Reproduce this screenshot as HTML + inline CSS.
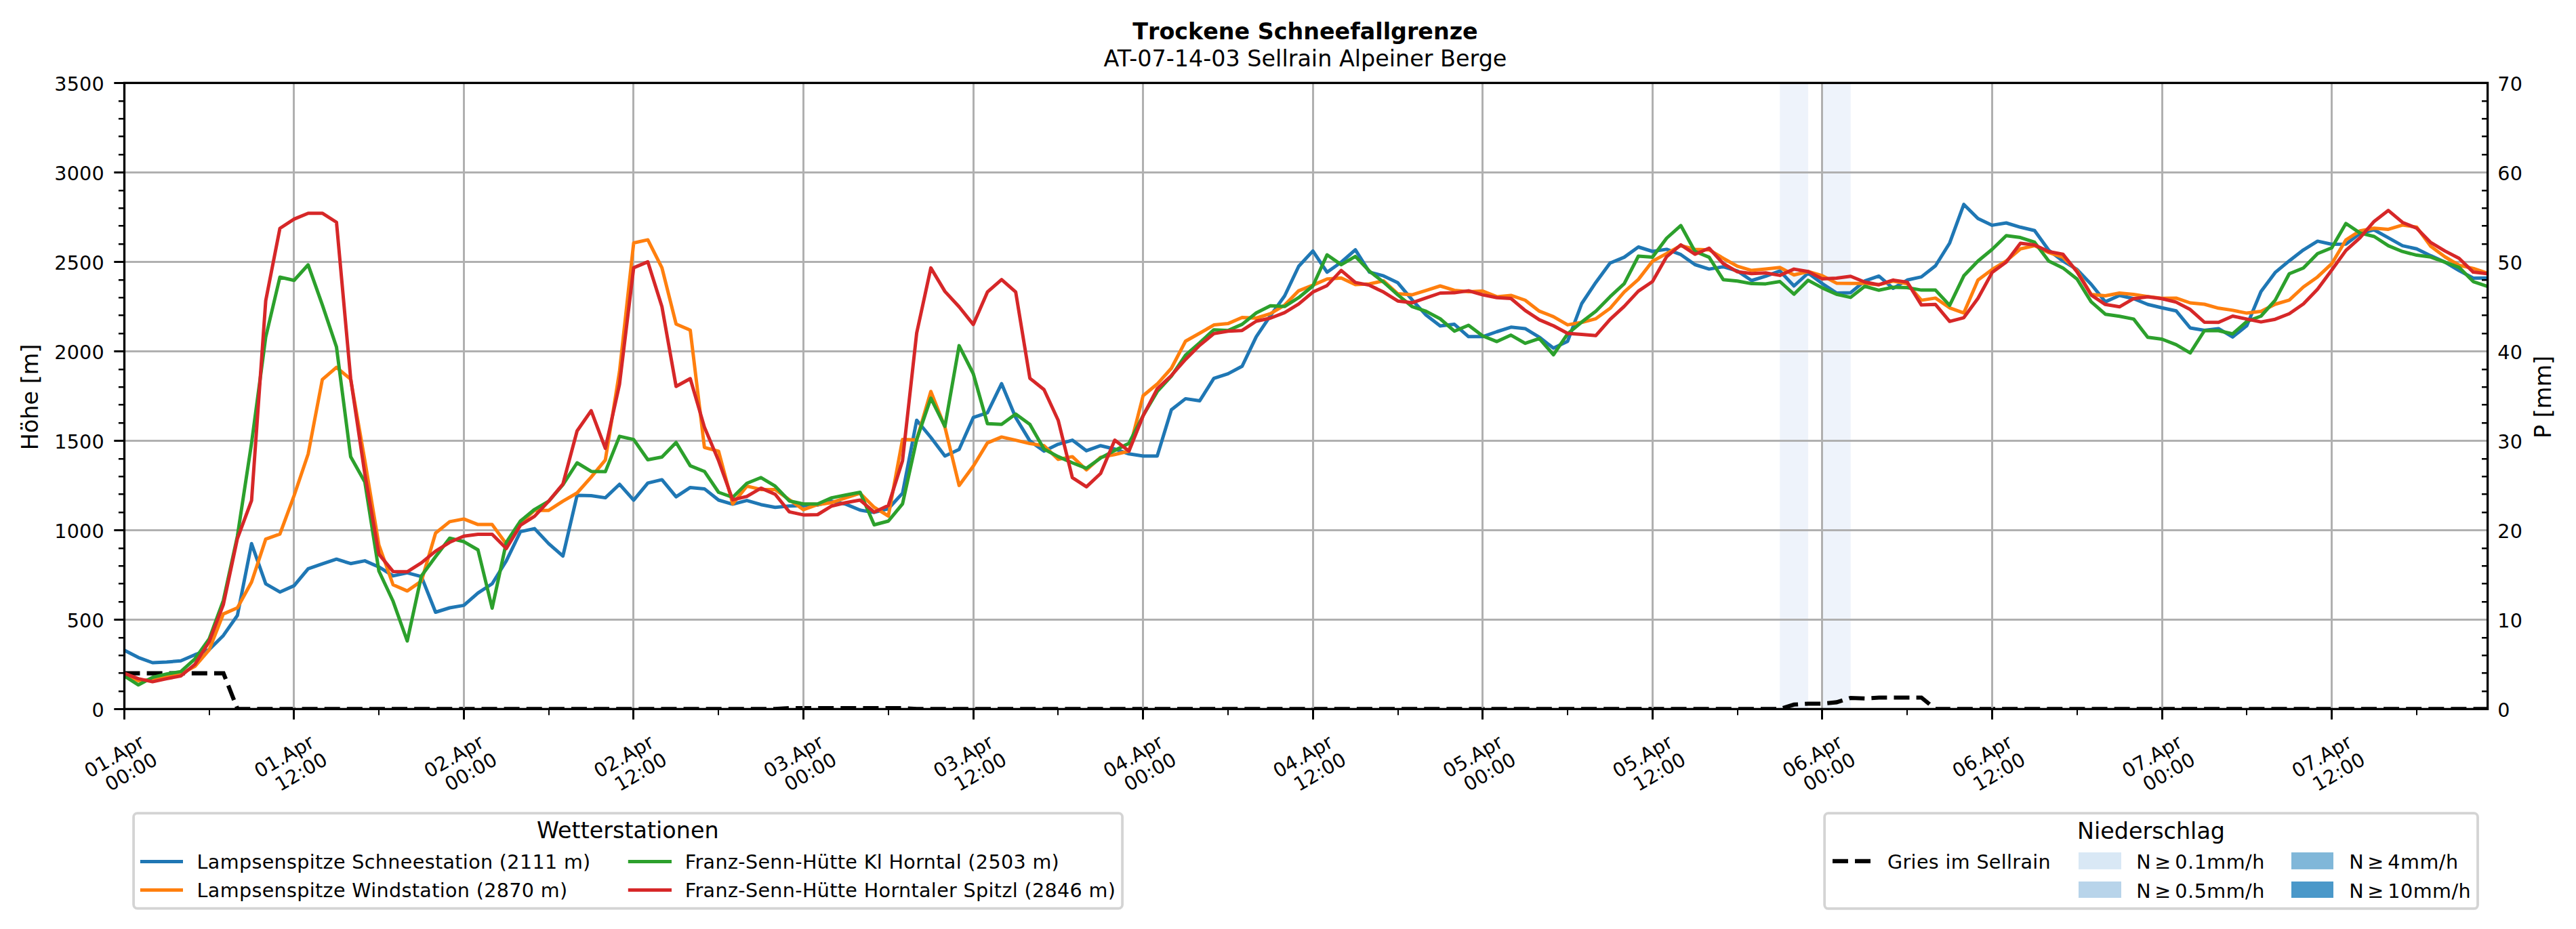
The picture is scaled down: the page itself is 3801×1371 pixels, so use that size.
<!DOCTYPE html>
<html lang="de"><head><meta charset="utf-8"><title>Trockene Schneefallgrenze</title>
<style>
html,body{margin:0;padding:0;background:#fff;overflow:hidden;width:3801px;height:1371px;}
svg{display:block;}
text{font-family:'DejaVu Sans','Liberation Sans',sans-serif;fill:#000;}
.tk{font-size:28.6px;letter-spacing:0.2px;}
.lg{font-size:28.6px;letter-spacing:0.34px;}
.ti{font-size:33.4px;}
</style></head><body>
<svg width="3801" height="1371" viewBox="0 0 3801 1371">
<rect width="3801" height="1371" fill="#fff"/>
<defs><clipPath id="ax"><rect x="183.5" y="122.4" width="3487.1" height="924.0"/></clipPath></defs>

<rect x="2626.3" y="122.4" width="41.8" height="924.0" fill="#eef3fb"/>
<rect x="2688.9" y="122.4" width="41.8" height="924.0" fill="#eef3fb"/>
<path clip-path="url(#ax)" d="M183.5,993.6 L204.4,993.6 L225.3,993.6 L246.1,993.6 L267.0,993.6 L287.9,993.6 L308.8,993.6 L329.7,993.6 L350.5,1046.4 L371.4,1046.4 L392.3,1046.4 L413.2,1046.4 L434.0,1046.4 L454.9,1046.4 L475.8,1046.4 L496.7,1046.4 L517.6,1046.4 L538.4,1046.4 L559.3,1046.4 L580.2,1046.4 L601.1,1046.4 L622.0,1046.4 L642.8,1046.4 L663.7,1046.4 L684.6,1046.4 L705.5,1046.4 L726.4,1046.4 L747.2,1046.4 L768.1,1046.4 L789.0,1046.4 L809.9,1046.4 L830.7,1046.4 L851.6,1046.4 L872.5,1046.4 L893.4,1046.4 L914.3,1046.4 L935.1,1046.4 L956.0,1046.4 L976.9,1046.4 L997.8,1046.4 L1018.7,1046.4 L1039.5,1046.4 L1060.4,1046.4 L1081.3,1046.4 L1102.2,1046.4 L1123.1,1046.4 L1143.9,1046.4 L1164.8,1045.1 L1185.7,1045.1 L1206.6,1045.1 L1227.5,1045.1 L1248.3,1045.1 L1269.2,1045.1 L1290.1,1045.1 L1311.0,1045.1 L1331.8,1045.1 L1352.7,1046.4 L1373.6,1046.4 L1394.5,1046.4 L1415.4,1046.4 L1436.2,1046.4 L1457.1,1046.4 L1478.0,1046.4 L1498.9,1046.4 L1519.8,1046.4 L1540.6,1046.4 L1561.5,1046.4 L1582.4,1046.4 L1603.3,1046.4 L1624.2,1046.4 L1645.0,1046.4 L1665.9,1046.4 L1686.8,1046.4 L1707.7,1046.4 L1728.5,1046.4 L1749.4,1046.4 L1770.3,1046.4 L1791.2,1046.4 L1812.1,1046.4 L1832.9,1046.4 L1853.8,1046.4 L1874.7,1046.4 L1895.6,1046.4 L1916.5,1046.4 L1937.3,1046.4 L1958.2,1046.4 L1979.1,1046.4 L2000.0,1046.4 L2020.9,1046.4 L2041.7,1046.4 L2062.6,1046.4 L2083.5,1046.4 L2104.4,1046.4 L2125.2,1046.4 L2146.1,1046.4 L2167.0,1046.4 L2187.9,1046.4 L2208.8,1046.4 L2229.6,1046.4 L2250.5,1046.4 L2271.4,1046.4 L2292.3,1046.4 L2313.2,1046.4 L2334.0,1046.4 L2354.9,1046.4 L2375.8,1046.4 L2396.7,1046.4 L2417.6,1046.4 L2438.4,1046.4 L2459.3,1046.4 L2480.2,1046.4 L2501.1,1046.4 L2521.9,1046.4 L2542.8,1046.4 L2563.7,1046.4 L2584.6,1046.4 L2605.5,1046.4 L2626.3,1046.4 L2647.2,1039.8 L2668.1,1038.5 L2689.0,1038.5 L2709.9,1036.4 L2730.7,1030.0 L2751.6,1030.8 L2772.5,1029.5 L2793.4,1029.5 L2814.3,1029.5 L2835.1,1029.5 L2856.0,1046.4 L2876.9,1046.4 L2897.8,1046.4 L2918.6,1046.4 L2939.5,1046.4 L2960.4,1046.4 L2981.3,1046.4 L3002.2,1046.4 L3023.0,1046.4 L3043.9,1046.4 L3064.8,1046.4 L3085.7,1046.4 L3106.6,1046.4 L3127.4,1046.4 L3148.3,1046.4 L3169.2,1046.4 L3190.1,1046.4 L3211.0,1046.4 L3231.8,1046.4 L3252.7,1046.4 L3273.6,1046.4 L3294.5,1046.4 L3315.4,1046.4 L3336.2,1046.4 L3357.1,1046.4 L3378.0,1046.4 L3398.9,1046.4 L3419.7,1046.4 L3440.6,1046.4 L3461.5,1046.4 L3482.4,1046.4 L3503.3,1046.4 L3524.1,1046.4 L3545.0,1046.4 L3565.9,1046.4 L3586.8,1046.4 L3607.7,1046.4 L3628.5,1046.4 L3649.4,1046.4 L3670.3,1046.4" fill="none" stroke="#000" stroke-width="6.1" stroke-dasharray="23.0 10.115" stroke-linecap="butt" stroke-linejoin="miter"/>
<g fill="#000">
<rect x="3655.4" y="1045" width="15.2" height="3"/>
<rect x="3655.4" y="913" width="15.2" height="3"/>
<rect x="3655.4" y="781" width="15.2" height="3"/>
<rect x="3655.4" y="649" width="15.2" height="3"/>
<rect x="3655.4" y="517" width="15.2" height="3"/>
<rect x="3655.4" y="385" width="15.2" height="3"/>
<rect x="3655.4" y="253" width="15.2" height="3"/>
<rect x="3655.4" y="121" width="15.2" height="3"/>
</g>
<g fill="#b0b0b0">
<rect x="182" y="122.4" width="3" height="924.0"/>
<rect x="432" y="122.4" width="3" height="924.0"/>
<rect x="683" y="122.4" width="3" height="924.0"/>
<rect x="933" y="122.4" width="3" height="924.0"/>
<rect x="1184" y="122.4" width="3" height="924.0"/>
<rect x="1435" y="122.4" width="3" height="924.0"/>
<rect x="1685" y="122.4" width="3" height="924.0"/>
<rect x="1936" y="122.4" width="3" height="924.0"/>
<rect x="2186" y="122.4" width="3" height="924.0"/>
<rect x="2437" y="122.4" width="3" height="924.0"/>
<rect x="2687" y="122.4" width="3" height="924.0"/>
<rect x="2938" y="122.4" width="3" height="924.0"/>
<rect x="3189" y="122.4" width="3" height="924.0"/>
<rect x="3439" y="122.4" width="3" height="924.0"/>
<rect x="183.5" y="1045" width="3487.1" height="3"/>
<rect x="183.5" y="913" width="3487.1" height="3"/>
<rect x="183.5" y="781" width="3487.1" height="3"/>
<rect x="183.5" y="649" width="3487.1" height="3"/>
<rect x="183.5" y="517" width="3487.1" height="3"/>
<rect x="183.5" y="385" width="3487.1" height="3"/>
<rect x="183.5" y="253" width="3487.1" height="3"/>
<rect x="183.5" y="121" width="3487.1" height="3"/>
</g>
<g clip-path="url(#ax)" fill="none" stroke-linejoin="round">
<path d="M183.3,959.6 L204.2,970.3 L225.1,978.0 L245.9,977.0 L266.8,975.3 L287.7,966.2 L308.6,958.8 L329.5,937.9 L350.3,908.2 L371.2,802.3 L392.1,861.6 L413.0,873.7 L433.9,864.4 L454.7,839.3 L475.6,832.1 L496.5,825.2 L517.4,831.7 L538.3,827.6 L559.1,836.7 L580.0,849.9 L600.9,845.4 L621.8,850.9 L642.7,903.5 L663.5,897.0 L684.4,893.4 L705.3,875.2 L726.2,861.5 L747.1,827.7 L767.9,784.6 L788.8,780.1 L809.7,802.4 L830.6,820.6 L851.5,731.1 L872.3,731.5 L893.2,734.6 L914.1,714.7 L935.0,738.2 L955.9,712.9 L976.7,707.9 L997.6,733.2 L1018.5,719.4 L1039.4,721.4 L1060.3,738.0 L1081.1,744.1 L1102.0,738.6 L1122.9,744.7 L1143.8,748.7 L1164.7,746.7 L1185.5,746.3 L1206.4,745.3 L1227.3,739.6 L1248.2,744.1 L1269.1,752.8 L1289.9,756.2 L1310.8,750.8 L1331.7,727.9 L1352.6,620.2 L1373.5,645.5 L1394.3,672.9 L1415.2,663.3 L1436.1,616.2 L1457.0,609.1 L1477.9,566.2 L1498.7,616.2 L1519.6,650.6 L1540.5,665.8 L1561.4,655.6 L1582.3,649.6 L1603.1,665.2 L1624.0,657.7 L1644.9,662.7 L1665.8,669.8 L1686.7,673.0 L1707.5,673.0 L1728.4,604.8 L1749.3,588.4 L1770.2,591.5 L1791.1,558.3 L1811.9,551.6 L1832.8,540.5 L1853.7,496.8 L1874.6,465.9 L1895.5,436.7 L1916.3,393.0 L1937.2,370.4 L1958.1,401.7 L1979.0,387.0 L1999.9,368.7 L2020.7,401.7 L2041.6,407.2 L2062.5,417.3 L2083.4,442.2 L2104.3,465.1 L2125.1,481.1 L2146.0,478.6 L2166.9,496.8 L2187.8,496.8 L2208.7,489.5 L2229.5,482.8 L2250.4,484.9 L2271.3,497.6 L2292.2,513.8 L2313.1,503.7 L2333.9,448.0 L2354.8,416.7 L2375.7,388.3 L2396.6,379.6 L2417.5,364.5 L2438.3,371.0 L2459.2,367.9 L2480.1,375.7 L2501.0,390.5 L2521.9,397.1 L2542.7,393.7 L2563.6,399.9 L2584.5,414.0 L2605.4,407.7 L2626.3,399.9 L2647.1,422.0 L2668.0,403.0 L2688.9,418.6 L2709.8,432.4 L2730.7,431.9 L2751.5,414.7 L2772.4,407.4 L2793.3,425.5 L2814.2,413.3 L2835.1,408.6 L2855.9,392.2 L2876.8,358.7 L2897.7,301.7 L2918.6,322.5 L2939.5,332.4 L2960.3,329.0 L2981.2,335.3 L3002.1,340.2 L3023.0,369.3 L3043.9,385.2 L3064.7,397.7 L3085.6,419.5 L3106.5,445.4 L3127.4,436.0 L3148.3,440.7 L3169.1,449.3 L3190.0,454.3 L3210.9,458.7 L3231.8,484.0 L3252.7,487.5 L3273.5,484.9 L3294.4,497.4 L3315.3,480.5 L3336.2,430.3 L3357.1,402.2 L3377.9,384.9 L3398.8,368.8 L3419.7,355.9 L3440.6,360.5 L3461.5,360.2 L3482.3,344.6 L3503.2,339.2 L3524.1,350.9 L3545.0,362.6 L3565.9,367.3 L3586.7,377.4 L3607.6,386.8 L3628.5,399.3 L3649.4,410.5 L3670.3,410.2" stroke="#1f77b4" stroke-width="5" stroke-linecap="square"/>
<path d="M183.3,994.6 L204.2,1004.7 L225.1,1002.7 L245.9,998.6 L266.8,994.6 L287.7,983.4 L308.6,959.2 L329.5,906.1 L350.3,897.0 L371.2,859.0 L392.1,795.6 L413.0,788.2 L433.9,731.5 L454.7,670.0 L475.6,560.1 L496.5,542.1 L517.4,559.7 L538.3,679.5 L559.1,804.3 L580.0,863.0 L600.9,872.1 L621.8,857.6 L642.7,786.7 L663.5,769.9 L684.4,765.9 L705.3,774.1 L726.2,774.1 L747.1,802.8 L767.9,772.0 L788.8,753.2 L809.7,753.2 L830.6,739.6 L851.5,727.5 L872.3,704.2 L893.2,678.9 L914.1,548.5 L935.0,358.5 L955.9,353.9 L976.7,395.1 L997.6,478.2 L1018.5,487.2 L1039.4,660.3 L1060.3,665.8 L1081.1,743.7 L1102.0,717.4 L1122.9,722.4 L1143.8,722.4 L1164.7,737.6 L1185.5,752.2 L1206.4,744.7 L1227.3,741.7 L1248.2,734.6 L1269.1,727.9 L1289.9,748.7 L1310.8,761.5 L1331.7,648.6 L1352.6,649.2 L1373.5,577.7 L1394.3,630.4 L1415.2,716.4 L1436.1,688.0 L1457.0,653.6 L1477.9,644.9 L1498.7,649.6 L1519.6,654.6 L1540.5,657.7 L1561.4,677.9 L1582.3,673.9 L1603.1,693.5 L1624.0,674.9 L1644.9,670.8 L1665.8,665.8 L1686.7,584.0 L1707.5,566.8 L1728.4,543.5 L1749.3,503.5 L1770.2,491.8 L1791.1,479.6 L1811.9,477.6 L1832.8,468.5 L1853.7,469.5 L1874.6,462.8 L1895.5,450.3 L1916.3,429.1 L1937.2,420.9 L1958.1,411.8 L1979.0,410.2 L1999.9,419.9 L2020.7,418.9 L2041.6,414.5 L2062.5,433.5 L2083.4,435.1 L2104.3,428.6 L2125.1,422.0 L2146.0,428.4 L2166.9,430.5 L2187.8,429.5 L2208.7,437.9 L2229.5,435.9 L2250.4,443.0 L2271.3,459.2 L2292.2,467.3 L2313.1,479.4 L2333.9,475.8 L2354.8,470.3 L2375.7,455.1 L2396.6,430.8 L2417.5,412.4 L2438.3,385.5 L2459.2,374.1 L2480.1,362.4 L2501.0,367.9 L2521.9,368.7 L2542.7,381.2 L2563.6,392.9 L2584.5,399.1 L2605.4,397.1 L2626.3,394.7 L2647.1,405.8 L2668.0,400.7 L2688.9,406.9 L2709.8,417.9 L2730.7,418.3 L2751.5,418.3 L2772.4,420.2 L2793.3,414.9 L2814.2,418.8 L2835.1,443.1 L2855.9,439.9 L2876.8,454.3 L2897.7,461.8 L2918.6,413.3 L2939.5,397.7 L2960.3,385.2 L2981.2,367.3 L3002.1,362.6 L3023.0,372.7 L3043.9,379.7 L3064.7,399.3 L3085.6,434.5 L3106.5,436.5 L3127.4,432.5 L3148.3,434.5 L3169.1,437.6 L3190.0,440.3 L3210.9,439.9 L3231.8,447.0 L3252.7,449.0 L3273.5,454.8 L3294.4,457.9 L3315.3,462.1 L3336.2,459.4 L3357.1,449.0 L3377.9,442.8 L3398.8,423.5 L3419.7,408.7 L3440.6,389.2 L3461.5,354.0 L3482.3,340.7 L3503.2,336.8 L3524.1,338.4 L3545.0,332.1 L3565.9,335.3 L3586.7,363.4 L3607.6,379.0 L3628.5,391.5 L3649.4,396.1 L3670.3,403.2" stroke="#ff7f0e" stroke-width="5" stroke-linecap="square"/>
<path d="M183.3,997.6 L204.2,1010.8 L225.1,999.6 L245.9,994.6 L266.8,991.1 L287.7,972.3 L308.6,943.0 L329.5,886.3 L350.3,791.2 L371.2,653.8 L392.1,497.5 L413.0,409.0 L433.9,413.8 L454.7,390.8 L475.6,449.9 L496.5,512.1 L517.4,674.0 L538.3,711.2 L559.1,842.8 L580.0,887.3 L600.9,946.0 L621.8,849.9 L642.7,821.5 L663.5,794.2 L684.4,799.3 L705.3,811.5 L726.2,897.5 L747.1,800.4 L767.9,769.0 L788.8,751.8 L809.7,739.6 L830.6,715.4 L851.5,683.0 L872.3,695.7 L893.2,696.1 L914.1,643.9 L935.0,648.6 L955.9,678.5 L976.7,674.5 L997.6,653.0 L1018.5,687.4 L1039.4,695.7 L1060.3,726.5 L1081.1,734.0 L1102.0,713.3 L1122.9,704.8 L1143.8,717.4 L1164.7,739.2 L1185.5,743.7 L1206.4,743.7 L1227.3,734.6 L1248.2,730.5 L1269.1,726.5 L1289.9,774.5 L1310.8,769.0 L1331.7,743.7 L1352.6,648.6 L1373.5,587.6 L1394.3,629.3 L1415.2,510.1 L1436.1,551.5 L1457.0,625.3 L1477.9,626.3 L1498.7,611.1 L1519.6,626.3 L1540.5,662.7 L1561.4,673.9 L1582.3,683.0 L1603.1,691.1 L1624.0,675.9 L1644.9,664.8 L1665.8,654.2 L1686.7,613.3 L1707.5,577.9 L1728.4,555.1 L1749.3,524.2 L1770.2,505.9 L1791.1,486.7 L1811.9,487.7 L1832.8,478.6 L1853.7,461.8 L1874.6,451.3 L1895.5,452.3 L1916.3,439.2 L1937.2,422.0 L1958.1,376.0 L1979.0,390.6 L1999.9,378.4 L2020.7,400.3 L2041.6,416.5 L2062.5,435.1 L2083.4,452.3 L2104.3,459.4 L2125.1,470.5 L2146.0,488.7 L2166.9,480.0 L2187.8,495.8 L2208.7,504.1 L2229.5,494.6 L2250.4,506.7 L2271.3,499.6 L2292.2,523.5 L2313.1,492.6 L2333.9,475.3 L2354.8,459.2 L2375.7,437.9 L2396.6,418.7 L2417.5,378.0 L2438.3,379.6 L2459.2,351.5 L2480.1,332.8 L2501.0,371.0 L2521.9,379.6 L2542.7,412.7 L2563.6,414.7 L2584.5,418.6 L2605.4,418.9 L2626.3,415.5 L2647.1,434.2 L2668.0,413.6 L2688.9,424.9 L2709.8,434.2 L2730.7,438.9 L2751.5,422.5 L2772.4,428.3 L2793.3,423.9 L2814.2,424.5 L2835.1,428.1 L2855.9,428.1 L2876.8,450.6 L2897.7,407.1 L2918.6,385.2 L2939.5,368.0 L2960.3,347.8 L2981.2,350.6 L3002.1,357.4 L3023.0,385.2 L3043.9,395.4 L3064.7,411.7 L3085.6,445.4 L3106.5,463.7 L3127.4,466.8 L3148.3,470.9 L3169.1,497.7 L3190.0,500.5 L3210.9,508.6 L3231.8,520.8 L3252.7,488.0 L3273.5,488.0 L3294.4,492.7 L3315.3,474.3 L3336.2,466.5 L3357.1,443.1 L3377.9,404.0 L3398.8,395.5 L3419.7,374.3 L3440.6,365.7 L3461.5,329.8 L3482.3,343.9 L3503.2,349.0 L3524.1,362.6 L3545.0,371.2 L3565.9,376.6 L3586.7,379.3 L3607.6,386.8 L3628.5,394.6 L3649.4,415.6 L3670.3,422.7" stroke="#2ca02c" stroke-width="5" stroke-linecap="square"/>
<path d="M183.3,993.6 L204.2,1001.6 L225.1,1006.1 L245.9,1001.6 L266.8,997.6 L287.7,980.4 L308.6,947.0 L329.5,892.4 L350.3,794.8 L371.2,738.6 L392.1,443.8 L413.0,337.0 L433.9,323.4 L454.7,314.7 L475.6,314.7 L496.5,328.0 L517.4,558.3 L538.3,699.1 L559.1,817.9 L580.0,843.4 L600.9,843.8 L621.8,830.6 L642.7,813.4 L663.5,800.3 L684.4,791.2 L705.3,788.6 L726.2,788.6 L747.1,809.5 L767.9,775.1 L788.8,761.9 L809.7,739.6 L830.6,714.3 L851.5,636.0 L872.3,606.1 L893.2,661.7 L914.1,567.2 L935.0,395.1 L955.9,386.4 L976.7,452.5 L997.6,570.3 L1018.5,558.8 L1039.4,630.4 L1060.3,679.9 L1081.1,737.6 L1102.0,732.6 L1122.9,720.4 L1143.8,729.5 L1164.7,755.4 L1185.5,759.9 L1206.4,759.5 L1227.3,746.7 L1248.2,741.7 L1269.1,738.0 L1289.9,755.8 L1310.8,746.1 L1331.7,679.9 L1352.6,491.5 L1373.5,395.4 L1394.3,430.1 L1415.2,452.8 L1436.1,478.9 L1457.0,430.9 L1477.9,412.7 L1498.7,430.9 L1519.6,558.2 L1540.5,575.0 L1561.4,620.2 L1582.3,704.8 L1603.1,718.4 L1624.0,698.7 L1644.9,649.6 L1665.8,665.8 L1686.7,613.7 L1707.5,573.9 L1728.4,554.2 L1749.3,530.4 L1770.2,509.6 L1791.1,492.4 L1811.9,488.7 L1832.8,487.7 L1853.7,474.0 L1874.6,469.5 L1895.5,461.4 L1916.3,448.7 L1937.2,431.1 L1958.1,421.4 L1979.0,399.1 L1999.9,416.9 L2020.7,420.9 L2041.6,431.1 L2062.5,444.2 L2083.4,446.8 L2104.3,439.6 L2125.1,432.5 L2146.0,432.1 L2166.9,429.1 L2187.8,435.1 L2208.7,439.3 L2229.5,440.5 L2250.4,458.2 L2271.3,471.9 L2292.2,480.8 L2313.1,492.0 L2333.9,493.6 L2354.8,495.2 L2375.7,471.3 L2396.6,452.1 L2417.5,429.6 L2438.3,415.5 L2459.2,378.8 L2480.1,361.3 L2501.0,375.2 L2521.9,366.3 L2542.7,389.0 L2563.6,401.1 L2584.5,403.8 L2605.4,402.7 L2626.3,406.4 L2647.1,397.1 L2668.0,400.7 L2688.9,411.6 L2709.8,410.5 L2730.7,407.7 L2751.5,416.3 L2772.4,420.2 L2793.3,413.3 L2814.2,416.4 L2835.1,450.1 L2855.9,449.3 L2876.8,474.3 L2897.7,468.8 L2918.6,440.3 L2939.5,402.1 L2960.3,386.8 L2981.2,359.0 L3002.1,361.5 L3023.0,371.2 L3043.9,375.1 L3064.7,401.1 L3085.6,435.3 L3106.5,449.3 L3127.4,452.8 L3148.3,440.7 L3169.1,438.1 L3190.0,440.7 L3210.9,445.9 L3231.8,456.8 L3252.7,475.5 L3273.5,475.8 L3294.4,466.5 L3315.3,470.9 L3336.2,475.1 L3357.1,471.2 L3377.9,463.0 L3398.8,448.5 L3419.7,426.7 L3440.6,398.6 L3461.5,369.6 L3482.3,350.9 L3503.2,326.7 L3524.1,310.6 L3545.0,328.2 L3565.9,336.8 L3586.7,357.9 L3607.6,370.4 L3628.5,381.3 L3649.4,401.6 L3670.3,403.9" stroke="#d62728" stroke-width="5" stroke-linecap="square"/>
</g>
<g fill="#000">
<rect x="182" y="1046.4" width="3" height="15.4"/>
<rect x="432" y="1046.4" width="3" height="15.4"/>
<rect x="683" y="1046.4" width="3" height="15.4"/>
<rect x="933" y="1046.4" width="3" height="15.4"/>
<rect x="1184" y="1046.4" width="3" height="15.4"/>
<rect x="1435" y="1046.4" width="3" height="15.4"/>
<rect x="1685" y="1046.4" width="3" height="15.4"/>
<rect x="1936" y="1046.4" width="3" height="15.4"/>
<rect x="2186" y="1046.4" width="3" height="15.4"/>
<rect x="2437" y="1046.4" width="3" height="15.4"/>
<rect x="2687" y="1046.4" width="3" height="15.4"/>
<rect x="2938" y="1046.4" width="3" height="15.4"/>
<rect x="3189" y="1046.4" width="3" height="15.4"/>
<rect x="3439" y="1046.4" width="3" height="15.4"/>
<rect x="168.3" y="1045" width="15.2" height="3"/>
<rect x="168.3" y="913" width="15.2" height="3"/>
<rect x="168.3" y="781" width="15.2" height="3"/>
<rect x="168.3" y="649" width="15.2" height="3"/>
<rect x="168.3" y="517" width="15.2" height="3"/>
<rect x="168.3" y="385" width="15.2" height="3"/>
<rect x="168.3" y="253" width="15.2" height="3"/>
<rect x="168.3" y="121" width="15.2" height="3"/>
<rect x="308" y="1046.4" width="2" height="9.0"/>
<rect x="558" y="1046.4" width="2" height="9.0"/>
<rect x="809" y="1046.4" width="2" height="9.0"/>
<rect x="1059" y="1046.4" width="2" height="9.0"/>
<rect x="1310" y="1046.4" width="2" height="9.0"/>
<rect x="1560" y="1046.4" width="2" height="9.0"/>
<rect x="1811" y="1046.4" width="2" height="9.0"/>
<rect x="2062" y="1046.4" width="2" height="9.0"/>
<rect x="2312" y="1046.4" width="2" height="9.0"/>
<rect x="2563" y="1046.4" width="2" height="9.0"/>
<rect x="2813" y="1046.4" width="2" height="9.0"/>
<rect x="3064" y="1046.4" width="2" height="9.0"/>
<rect x="3314" y="1046.4" width="2" height="9.0"/>
<rect x="3565" y="1046.4" width="2" height="9.0"/>
<rect x="174.9" y="1019" width="8.6" height="2.5"/>
<rect x="3662.0" y="1019" width="8.6" height="2.5"/>
<rect x="174.9" y="992" width="8.6" height="2.5"/>
<rect x="3662.0" y="992" width="8.6" height="2.5"/>
<rect x="174.9" y="966" width="8.6" height="2.5"/>
<rect x="3662.0" y="966" width="8.6" height="2.5"/>
<rect x="174.9" y="940" width="8.6" height="2.5"/>
<rect x="3662.0" y="940" width="8.6" height="2.5"/>
<rect x="174.9" y="887" width="8.6" height="2.5"/>
<rect x="3662.0" y="887" width="8.6" height="2.5"/>
<rect x="174.9" y="860" width="8.6" height="2.5"/>
<rect x="3662.0" y="860" width="8.6" height="2.5"/>
<rect x="174.9" y="834" width="8.6" height="2.5"/>
<rect x="3662.0" y="834" width="8.6" height="2.5"/>
<rect x="174.9" y="808" width="8.6" height="2.5"/>
<rect x="3662.0" y="808" width="8.6" height="2.5"/>
<rect x="174.9" y="755" width="8.6" height="2.5"/>
<rect x="3662.0" y="755" width="8.6" height="2.5"/>
<rect x="174.9" y="728" width="8.6" height="2.5"/>
<rect x="3662.0" y="728" width="8.6" height="2.5"/>
<rect x="174.9" y="702" width="8.6" height="2.5"/>
<rect x="3662.0" y="702" width="8.6" height="2.5"/>
<rect x="174.9" y="676" width="8.6" height="2.5"/>
<rect x="3662.0" y="676" width="8.6" height="2.5"/>
<rect x="174.9" y="623" width="8.6" height="2.5"/>
<rect x="3662.0" y="623" width="8.6" height="2.5"/>
<rect x="174.9" y="596" width="8.6" height="2.5"/>
<rect x="3662.0" y="596" width="8.6" height="2.5"/>
<rect x="174.9" y="570" width="8.6" height="2.5"/>
<rect x="3662.0" y="570" width="8.6" height="2.5"/>
<rect x="174.9" y="544" width="8.6" height="2.5"/>
<rect x="3662.0" y="544" width="8.6" height="2.5"/>
<rect x="174.9" y="491" width="8.6" height="2.5"/>
<rect x="3662.0" y="491" width="8.6" height="2.5"/>
<rect x="174.9" y="464" width="8.6" height="2.5"/>
<rect x="3662.0" y="464" width="8.6" height="2.5"/>
<rect x="174.9" y="438" width="8.6" height="2.5"/>
<rect x="3662.0" y="438" width="8.6" height="2.5"/>
<rect x="174.9" y="412" width="8.6" height="2.5"/>
<rect x="3662.0" y="412" width="8.6" height="2.5"/>
<rect x="174.9" y="359" width="8.6" height="2.5"/>
<rect x="3662.0" y="359" width="8.6" height="2.5"/>
<rect x="174.9" y="332" width="8.6" height="2.5"/>
<rect x="3662.0" y="332" width="8.6" height="2.5"/>
<rect x="174.9" y="306" width="8.6" height="2.5"/>
<rect x="3662.0" y="306" width="8.6" height="2.5"/>
<rect x="174.9" y="280" width="8.6" height="2.5"/>
<rect x="3662.0" y="280" width="8.6" height="2.5"/>
<rect x="174.9" y="227" width="8.6" height="2.5"/>
<rect x="3662.0" y="227" width="8.6" height="2.5"/>
<rect x="174.9" y="200" width="8.6" height="2.5"/>
<rect x="3662.0" y="200" width="8.6" height="2.5"/>
<rect x="174.9" y="174" width="8.6" height="2.5"/>
<rect x="3662.0" y="174" width="8.6" height="2.5"/>
<rect x="174.9" y="148" width="8.6" height="2.5"/>
<rect x="3662.0" y="148" width="8.6" height="2.5"/>
</g>
<rect x="183.5" y="122.4" width="3487.1" height="924.0" fill="none" stroke="#000" stroke-width="3.33"/>
<text class="tk" x="153.9" y="1057.6" text-anchor="end">0</text>
<text class="tk" x="153.9" y="925.6" text-anchor="end">500</text>
<text class="tk" x="153.9" y="793.6" text-anchor="end">1000</text>
<text class="tk" x="153.9" y="661.6" text-anchor="end">1500</text>
<text class="tk" x="153.9" y="529.6" text-anchor="end">2000</text>
<text class="tk" x="153.9" y="397.6" text-anchor="end">2500</text>
<text class="tk" x="153.9" y="265.6" text-anchor="end">3000</text>
<text class="tk" x="153.9" y="133.6" text-anchor="end">3500</text>
<text class="tk" x="3685.3" y="1057.6">0</text>
<text class="tk" x="3685.3" y="925.6">10</text>
<text class="tk" x="3685.3" y="793.6">20</text>
<text class="tk" x="3685.3" y="661.6">30</text>
<text class="tk" x="3685.3" y="529.6">40</text>
<text class="tk" x="3685.3" y="397.6">50</text>
<text class="tk" x="3685.3" y="265.6">60</text>
<text class="tk" x="3685.3" y="133.6">70</text>
<g transform="translate(215.3,1100.8) rotate(-30)"><text class="tk" text-anchor="end"><tspan x="0" y="0">01.Apr</tspan><tspan x="3.9" y="32.2">00:00</tspan></text></g>
<g transform="translate(465.9,1100.8) rotate(-30)"><text class="tk" text-anchor="end"><tspan x="0" y="0">01.Apr</tspan><tspan x="3.9" y="32.2">12:00</tspan></text></g>
<g transform="translate(716.4,1100.8) rotate(-30)"><text class="tk" text-anchor="end"><tspan x="0" y="0">02.Apr</tspan><tspan x="3.9" y="32.2">00:00</tspan></text></g>
<g transform="translate(967.0,1100.8) rotate(-30)"><text class="tk" text-anchor="end"><tspan x="0" y="0">02.Apr</tspan><tspan x="3.9" y="32.2">12:00</tspan></text></g>
<g transform="translate(1217.5,1100.8) rotate(-30)"><text class="tk" text-anchor="end"><tspan x="0" y="0">03.Apr</tspan><tspan x="3.9" y="32.2">00:00</tspan></text></g>
<g transform="translate(1468.1,1100.8) rotate(-30)"><text class="tk" text-anchor="end"><tspan x="0" y="0">03.Apr</tspan><tspan x="3.9" y="32.2">12:00</tspan></text></g>
<g transform="translate(1718.7,1100.8) rotate(-30)"><text class="tk" text-anchor="end"><tspan x="0" y="0">04.Apr</tspan><tspan x="3.9" y="32.2">00:00</tspan></text></g>
<g transform="translate(1969.2,1100.8) rotate(-30)"><text class="tk" text-anchor="end"><tspan x="0" y="0">04.Apr</tspan><tspan x="3.9" y="32.2">12:00</tspan></text></g>
<g transform="translate(2219.8,1100.8) rotate(-30)"><text class="tk" text-anchor="end"><tspan x="0" y="0">05.Apr</tspan><tspan x="3.9" y="32.2">00:00</tspan></text></g>
<g transform="translate(2470.3,1100.8) rotate(-30)"><text class="tk" text-anchor="end"><tspan x="0" y="0">05.Apr</tspan><tspan x="3.9" y="32.2">12:00</tspan></text></g>
<g transform="translate(2720.9,1100.8) rotate(-30)"><text class="tk" text-anchor="end"><tspan x="0" y="0">06.Apr</tspan><tspan x="3.9" y="32.2">00:00</tspan></text></g>
<g transform="translate(2971.5,1100.8) rotate(-30)"><text class="tk" text-anchor="end"><tspan x="0" y="0">06.Apr</tspan><tspan x="3.9" y="32.2">12:00</tspan></text></g>
<g transform="translate(3222.0,1100.8) rotate(-30)"><text class="tk" text-anchor="end"><tspan x="0" y="0">07.Apr</tspan><tspan x="3.9" y="32.2">00:00</tspan></text></g>
<g transform="translate(3472.6,1100.8) rotate(-30)"><text class="tk" text-anchor="end"><tspan x="0" y="0">07.Apr</tspan><tspan x="3.9" y="32.2">12:00</tspan></text></g>
<text class="ti" transform="translate(56.2,586) rotate(-90)" text-anchor="middle">Höhe [m]</text>
<text class="ti" transform="translate(3764.3,586) rotate(-90)" text-anchor="middle">P [mm]</text>
<text class="ti" x="1926" y="57.8" text-anchor="middle" font-weight="bold" style="font-size:33.33px;font-kerning:none">Trockene Schneefallgrenze</text>
<text class="ti" x="1926" y="98.1" text-anchor="middle">AT-07-14-03 Sellrain Alpeiner Berge</text>
<rect x="197.1" y="1200.2" width="1459.0" height="140.4" rx="5.5" ry="5.5" fill="#fff" stroke="#d4d4d4" stroke-width="3.8"/>
<text class="ti" x="926.3" y="1237.3" text-anchor="middle">Wetterstationen</text>
<line x1="206.9" y1="1271.4" x2="270.0" y2="1271.4" stroke="#1f77b4" stroke-width="5"/>
<text class="lg" x="290.6" y="1281.7">Lampsenspitze Schneestation (2111 m)</text>
<line x1="206.9" y1="1313.5" x2="270.0" y2="1313.5" stroke="#ff7f0e" stroke-width="5"/>
<text class="lg" x="290.6" y="1323.8">Lampsenspitze Windstation (2870 m)</text>
<line x1="926.8" y1="1271.4" x2="991.0" y2="1271.4" stroke="#2ca02c" stroke-width="5"/>
<text class="lg" x="1010.8" y="1281.7">Franz-Senn-Hütte Kl Horntal (2503 m)</text>
<line x1="926.8" y1="1313.5" x2="991.0" y2="1313.5" stroke="#d62728" stroke-width="5"/>
<text class="lg" x="1010.8" y="1323.8">Franz-Senn-Hütte Horntaler Spitzl (2846 m)</text>
<rect x="2692.2" y="1200.2" width="963.8" height="140.7" rx="5.5" ry="5.5" fill="#fff" stroke="#d4d4d4" stroke-width="3.8"/>
<text class="ti" x="3174" y="1237.6" text-anchor="middle">Niederschlag</text>
<line x1="2704.0" y1="1270.85" x2="2767" y2="1270.85" stroke="#000" stroke-width="6.1" stroke-dasharray="22.95 10.1"/>
<text class="lg" x="2785" y="1282.2">Gries im Sellrain</text>
<rect x="3067" y="1257.9" width="63" height="25.0" fill="#d9e8f5"/>
<text class="lg" x="3152.2" y="1281.9">N<tspan dx="5.3">≥</tspan><tspan dx="5.8" style="letter-spacing:0.5px">0.1mm/h</tspan></text>
<rect x="3067" y="1300.9" width="63" height="24.1" fill="#b8d4ea"/>
<text class="lg" x="3152.2" y="1325.0">N<tspan dx="5.3">≥</tspan><tspan dx="5.8" style="letter-spacing:0.5px">0.5mm/h</tspan></text>
<rect x="3381" y="1257.9" width="62" height="25.0" fill="#80b7d9"/>
<text class="lg" x="3466.2" y="1281.9">N<tspan dx="5.3">≥</tspan><tspan dx="5.8" style="letter-spacing:0.5px">4mm/h</tspan></text>
<rect x="3381" y="1300.9" width="62" height="24.1" fill="#4a98c9"/>
<text class="lg" x="3466.2" y="1325.0">N<tspan dx="5.3">≥</tspan><tspan dx="5.8" style="letter-spacing:0.5px">10mm/h</tspan></text>
</svg></body></html>
